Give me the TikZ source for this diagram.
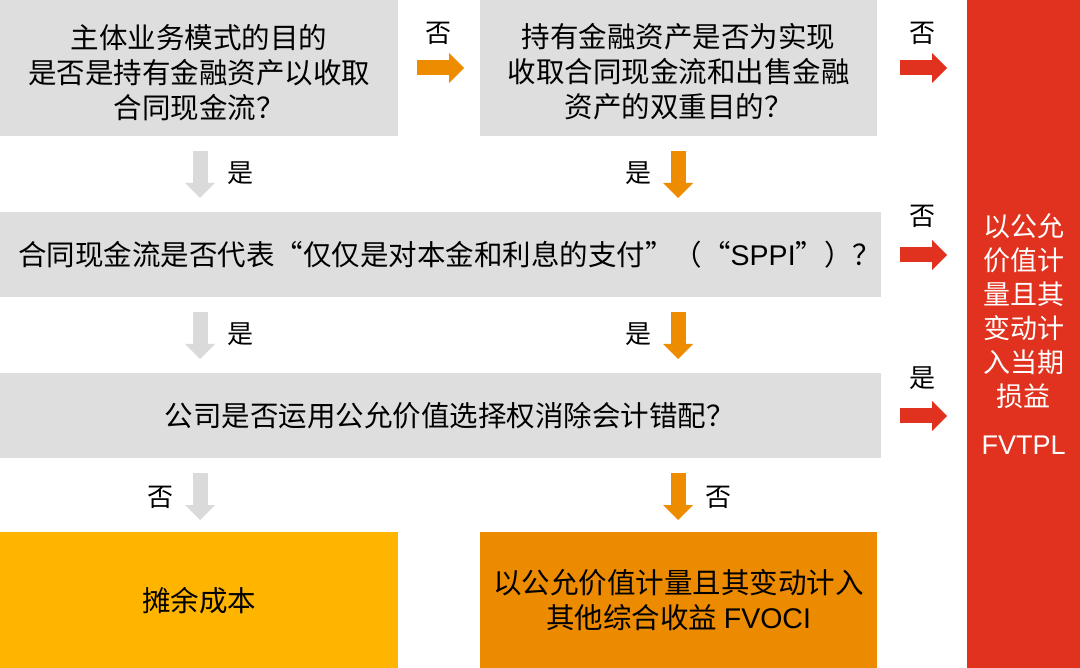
\documentclass[tikz,border=0pt]{standalone}
\usepackage{fontspec}
\setmainfont{Noto Sans CJK SC}
\newfontfamily\lat{Liberation Sans}
\usetikzlibrary{arrows.meta}
\definecolor{boxgray}{HTML}{DEDEDE}
\definecolor{arrgray}{HTML}{DADADA}
\definecolor{myorange}{HTML}{EE8C00}
\definecolor{myred}{HTML}{E0321E}
\definecolor{myyellow}{HTML}{FFB400}
\definecolor{boxorange}{HTML}{EC8A00}
\begin{document}
\begin{tikzpicture}[x=1pt,y=-1pt,
  box/.style={fill=#1, draw=none, inner sep=0pt, anchor=north west, align=center,
    font=\fontsize{28.5}{35}\selectfont},
  blockarrow/.style={line width=15pt, draw=#1,
    -{Triangle[length=15pt,width=30pt,line width=0pt]}},
  lbl/.style={font=\fontsize{26}{30}\selectfont, inner sep=0pt}]
\useasboundingbox (0,0) rectangle (1080,668);
\fill[white] (0,0) rectangle (1080,668);

\node[box=boxgray, minimum width=398pt, minimum height=136pt] (q1) at (0,0)
  {\rule{0pt}{32pt}主体业务模式的目的\\是否是持有金融资产以收取\\合同现金流？};
\node[box=boxgray, minimum width=397pt, minimum height=136pt] (q2) at (480,0)
  {\rule{0pt}{32pt}持有金融资产是否为实现\\收取合同现金流和出售金融\\资产的双重目的？};
\node[box=boxgray, minimum width=881pt, minimum height=85pt] (q3) at (0,212)
  {\hspace*{18pt}合同现金流是否代表“仅仅是对本金和利息的支付”（“{\lat SPPI}”）？};
\node[box=boxgray, minimum width=881pt, minimum height=85pt] (q4) at (0,373)
  {\hspace*{18pt}公司是否运用公允价值选择权消除会计错配？};
\node[box=myyellow, minimum width=398pt, minimum height=136pt] (r1) at (0,532)
  {摊余成本};
\node[box=boxorange, minimum width=397pt, minimum height=136pt] (r2) at (480,532)
  {以公允价值计量且其变动计入\\其他综合收益 {\lat FVOCI}};
\node[box=myred, minimum width=113pt, minimum height=668pt, text=white,
  font=\fontsize{27}{34}\selectfont] (r3) at (967,0)
  {以公允\\价值计\\量且其\\变动计\\入当期\\损益\\[14pt]{\lat FVTPL}};

% right arrows
\coordinate (a1s) at (417,68); \coordinate (a1e) at (464,68);
\draw[blockarrow=myorange] (a1s) -- (a1e);
\node[lbl] (l1) at (438,33) {否};
\coordinate (a2s) at (900,68); \coordinate (a2e) at (947,68);
\draw[blockarrow=myred] (a2s) -- (a2e);
\node[lbl] (l2) at (922,33) {否};
\coordinate (a3s) at (900,255); \coordinate (a3e) at (947,255);
\draw[blockarrow=myred] (a3s) -- (a3e);
\node[lbl] (l3) at (922,216) {否};
\coordinate (a4s) at (900,416); \coordinate (a4e) at (947,416);
\draw[blockarrow=myred] (a4s) -- (a4e);
\node[lbl] (l4) at (922,378) {是};

% down arrows, left column
\coordinate (d1s) at (200,151); \coordinate (d1e) at (200,198);
\draw[blockarrow=arrgray] (d1s) -- (d1e);
\node[lbl] (l5) at (240,173) {是};
\coordinate (d2s) at (200,312); \coordinate (d2e) at (200,359);
\draw[blockarrow=arrgray] (d2s) -- (d2e);
\node[lbl] (l6) at (240,334) {是};
\coordinate (d3s) at (200,473); \coordinate (d3e) at (200,520);
\draw[blockarrow=arrgray] (d3s) -- (d3e);
\node[lbl] (l7) at (160,497) {否};

% down arrows, middle column
\coordinate (e1s) at (678,151); \coordinate (e1e) at (678,198);
\draw[blockarrow=myorange] (e1s) -- (e1e);
\node[lbl] (l8) at (638,173) {是};
\coordinate (e2s) at (678,312); \coordinate (e2e) at (678,359);
\draw[blockarrow=myorange] (e2s) -- (e2e);
\node[lbl] (l9) at (638,334) {是};
\coordinate (e3s) at (678,473); \coordinate (e3e) at (678,520);
\draw[blockarrow=myorange] (e3s) -- (e3e);
\node[lbl] (l10) at (718,497) {否};
\end{tikzpicture}
\end{document}
